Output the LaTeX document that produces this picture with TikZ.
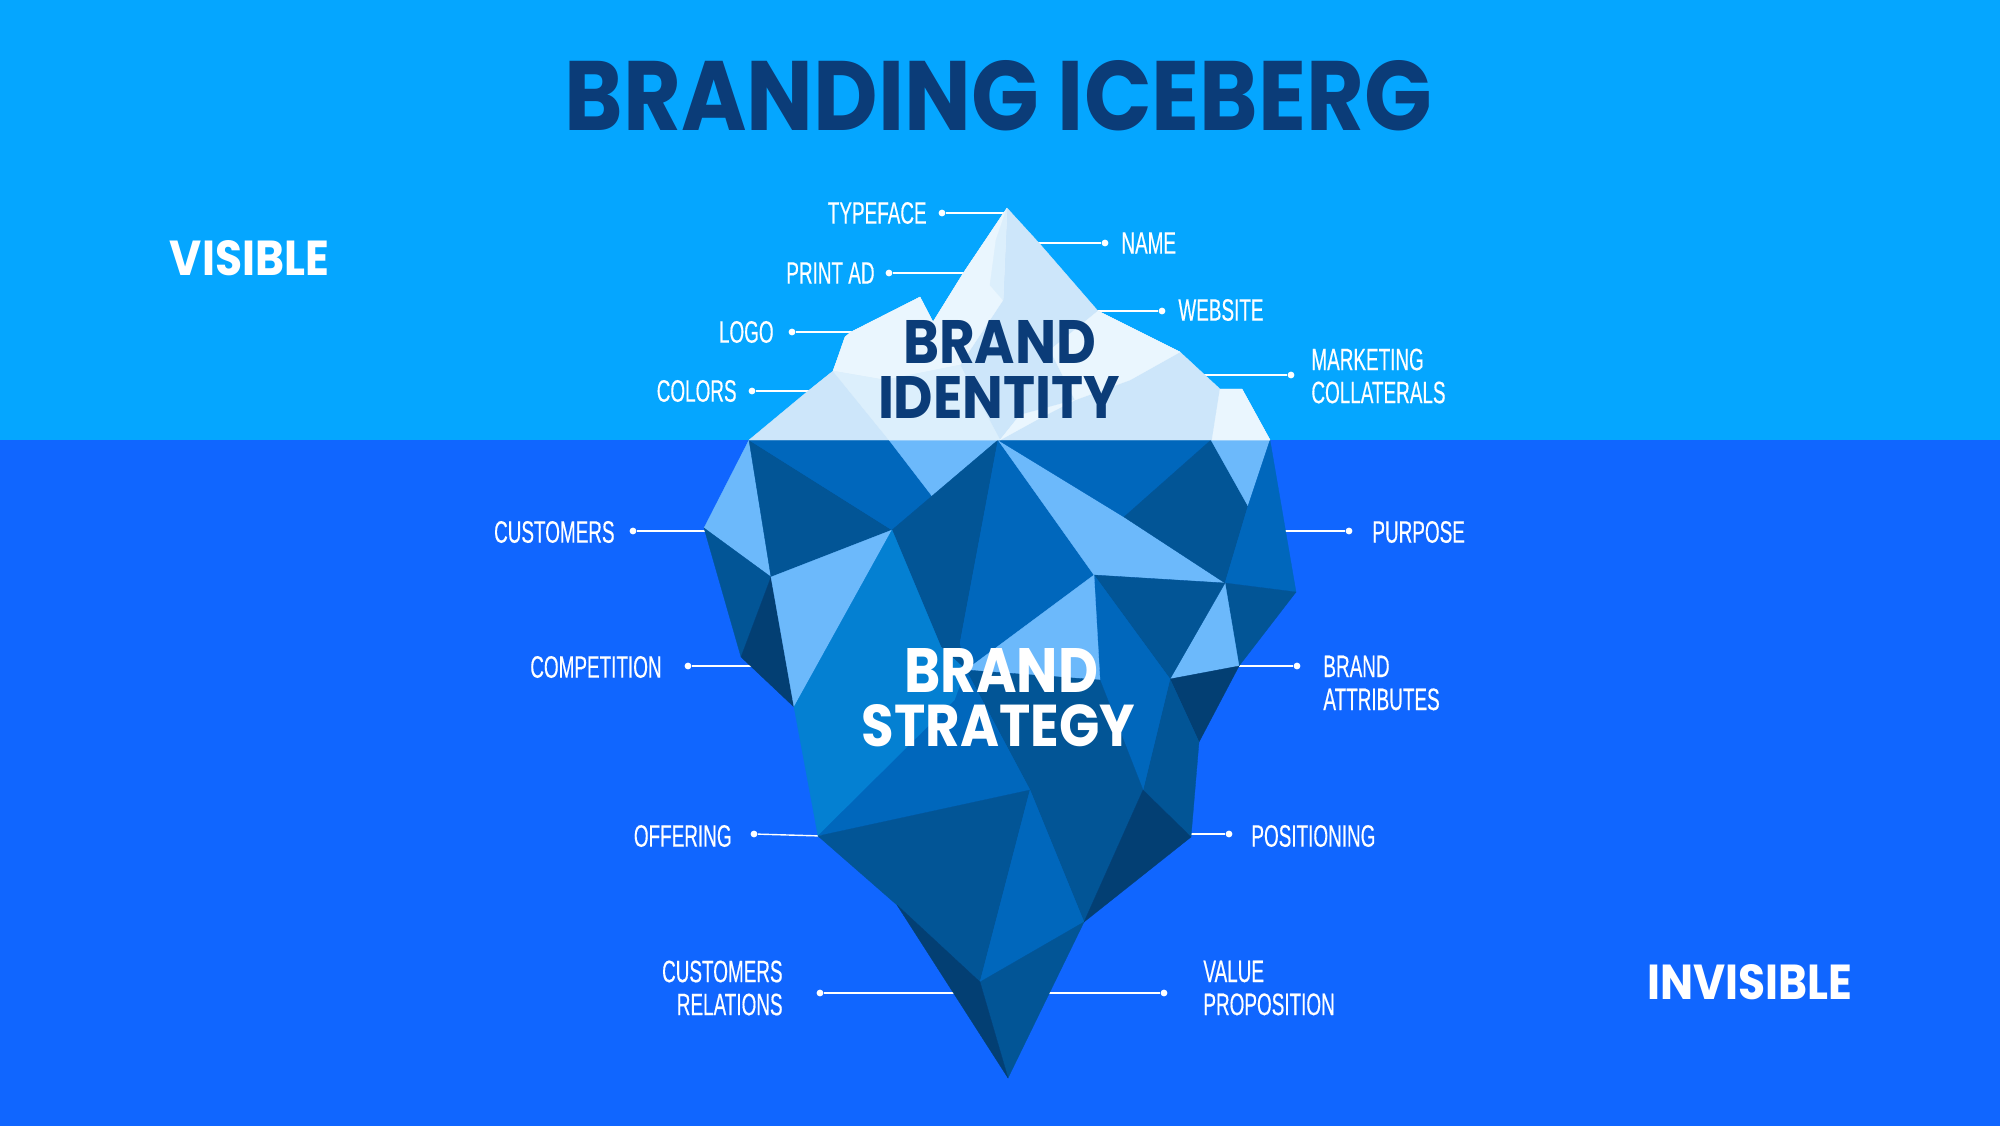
\documentclass[tikz,border=0pt]{standalone}
\usepackage{fontspec}
\setmainfont{Liberation Sans}
\newfontfamily\labfont[FakeStretch=0.61,FakeBold=0.35]{Liberation Sans}
\newfontfamily\headfont{Poppins}
\definecolor{sky}{HTML}{05A6FF}
\definecolor{sea}{HTML}{1066FF}
\definecolor{navy}{HTML}{0B3C78}
\definecolor{icelt}{HTML}{EAF6FE}
\definecolor{icemd}{HTML}{CDE6FA}
\definecolor{icehi}{HTML}{DCEFFC}
\definecolor{fl}{HTML}{6CB9FB}
\definecolor{fb}{HTML}{0480D2}
\definecolor{fm}{HTML}{0067BC}
\definecolor{fd}{HTML}{025596}
\definecolor{fv}{HTML}{033F73}
\tikzset{
  x=0.5pt,y=-0.5pt,
  lab/.style={text=white,inner sep=0pt,align=left,font=\labfont\fontsize{15.5}{16.5}\selectfont},
  labr/.style={lab,anchor=east,align=right},
  labl/.style={lab,anchor=west,align=left},
  dotn/.style={circle,fill=white,inner sep=0pt,minimum size=3.4pt},
  conn/.style={draw=white,line width=0.7pt},
  head/.style={inner sep=0pt,font=\headfont\bfseries},
}
\newcommand{\fct}[2]{\path[fill=#1,draw=#1,line width=0.15pt,line join=round] #2 -- cycle;}
\newcommand{\lnk}[3]{\node[dotn] (#1d) at (#2) {}; \coordinate (#1e) at (#3); \draw[conn] (#1d) -- (#1e);}
\begin{document}
\begin{tikzpicture}
\useasboundingbox (0,0) rectangle (2000,1125);
\fill[sky] (-10,-10) rectangle (2010,440);
\fill[sea] (-10,440) rectangle (2010,1135);

% connectors
\lnk{a}{942,213}{1004,213}
\lnk{b}{1105,243}{1036,243}
\lnk{c}{889,273}{966,273}
\lnk{e}{1162,311}{1095,311}
\lnk{f}{792,332}{855,332}
\lnk{g}{752,391}{812,391}
\lnk{h}{1291,375}{1203,375}
\lnk{i}{633,531}{708,531}
\lnk{j}{1349,531}{1284,531}
\lnk{k}{688,666}{755,666}
\lnk{l}{1297,666}{1235,666}
\lnk{m}{754,834}{822,836}
\lnk{n}{1229,834}{1187,834}
\lnk{o}{820,993}{958,993}
\lnk{p}{1164,993}{1048,993}

% vertices of the berg
\coordinate (W0) at (749,440);
\coordinate (A) at (704,528);
\coordinate (B) at (771,577);
\coordinate (C) at (892,530);
\coordinate (D) at (932,496);
\coordinate (E) at (889,440);
\coordinate (F) at (998,440);
\coordinate (G) at (1094,575);
\coordinate (H) at (1225,583);
\coordinate (I) at (1124,517);
\coordinate (J) at (1211,440);
\coordinate (K) at (1248,506);
\coordinate (L) at (1270,440);
\coordinate (M) at (1296,592);
\coordinate (N) at (1239,666);
\coordinate (O) at (1170,679);
\coordinate (P) at (1199,742);
\coordinate (S) at (741,657);
\coordinate (R) at (794,707);
\coordinate (T) at (960,643);
\coordinate (T2) at (941,647);
\coordinate (T3) at (966,670);
\coordinate (T4) at (1100,680);
\coordinate (T5) at (955,700);
\coordinate (V) at (818,836);
\coordinate (U) at (1030,790);
\coordinate (X) at (980,982);
\coordinate (Y) at (897,905);
\coordinate (Z) at (1143,790);
\coordinate (Q) at (1191,837);
\coordinate (W) at (1084,922);
\coordinate (Tip) at (1008,1078);

% under water
\fct{fl}{(W0) -- (A) -- (B)}
\fct{fd}{(W0) -- (C) -- (B)}
\fct{fm}{(W0) -- (E) -- (D) -- (C)}
\fct{fl}{(E) -- (F) -- (D)}
\fct{fd}{(C) -- (D) -- (F) -- (T) -- (T3) -- (T2)}
\fct{fm}{(F) -- (G) -- (T3) -- (T)}
\fct{fl}{(F) -- (I) -- (H) -- (G)}
\fct{fm}{(F) -- (J) -- (I)}
\fct{fd}{(J) -- (K) -- (H) -- (I)}
\fct{fl}{(J) -- (L) -- (K)}
\fct{fm}{(L) -- (M) -- (H) -- (K)}
\fct{fd}{(H) -- (M) -- (N)}
\fct{fl}{(H) -- (N) -- (O)}
\fct{fd}{(G) -- (H) -- (O)}
\fct{fv}{(O) -- (N) -- (P)}
\fct{fd}{(O) -- (P) -- (Q) -- (Z)}
\fct{fm}{(G) -- (O) -- (Z) -- (T4)}
\fct{fl}{(G) -- (T4) -- (T3)}
\fct{fd}{(T3) -- (T4) -- (Z) -- (W) -- (U)}
\fct{fv}{(Z) -- (Q) -- (W)}
\fct{fd}{(A) -- (B) -- (S)}
\fct{fv}{(B) -- (R) -- (S)}
\fct{fl}{(B) -- (C) -- (R)}
\fct{fb}{(C) -- (T2) -- (T3) -- (T5) -- (V) -- (R)}
\fct{fm}{(V) -- (T5) -- (T3) -- (U)}
\fct{fd}{(V) -- (U) -- (X) -- (Y)}
\fct{fm}{(U) -- (W) -- (X)}
\fct{fd}{(X) -- (W) -- (Tip)}
\fct{fv}{(Y) -- (X) -- (Tip)}

% above water
\fct{icemd}{(749,440) -- (808,391) -- (833,371) -- (837,360) -- (845,337) -- (851,332) -- (920,297) -- (933,322) -- (964,272) -- (1007,208) -- (1039,243) -- (1098,311) -- (1180,352) -- (1220,389) -- (1242,389) -- (1270,440)}
\fct{icelt}{(1007,208) -- (964,272) -- (933,322) -- (960,365) -- (1003,300)}
\fct{icehi}{(1007,208) -- (1003,300) -- (990,285) -- (996,240)}
\fct{icelt}{(833,371) -- (837,360) -- (845,337) -- (851,332) -- (920,297) -- (933,322) -- (960,365) -- (885,380)}
\fct{icehi}{(833,371) -- (885,380) -- (960,365) -- (1000,440) -- (889,440)}
\fct{icelt}{(1098,311) -- (1180,352) -- (1130,380) -- (1075,400) -- (1050,350)}
\fct{icelt}{(1000,440) -- (1020,415) -- (1075,400) -- (1040,418)}
\fct{icelt}{(1220,389) -- (1242,389) -- (1270,440) -- (1212,440)}

% heads
\node[head,text=navy] (title) at (998.5,96) {\resizebox{433.5pt}{35pt}{BRANDING ICEBERG}};
\node[head,text=navy,align=center] (ident1) at (999.5,341.5) {\resizebox{96.5pt}{21.5pt}{BRAND}};
\node[head,text=navy,align=center] (ident2) at (999,397) {\resizebox{121pt}{21pt}{IDENTITY}};
\node[head,text=white,align=center] (strat1) at (1001,670) {\resizebox{97pt}{22pt}{BRAND}};
\node[head,text=white,align=center] (strat2) at (998.5,726) {\resizebox{136.5pt}{21pt}{STRATEGY}};
\node[head,text=white] (vis) at (249.5,258) {\resizebox{79.5pt}{17.5pt}{VISIBLE}};
\node[head,text=white] (invis) at (1749.5,982) {\resizebox{102.5pt}{17.5pt}{INVISIBLE}};

% labels
\node[labr] (t1) at (927,213) {TYPEFACE};
\node[labl] (t2) at (1121,243) {NAME};
\node[labr] (t3) at (875,273) {PRINT AD};
\node[labl] (t4) at (1178,310) {WEBSITE};
\node[labr] (t5) at (774,332) {LOGO};
\node[labr] (t6) at (737,391) {COLORS};
\node[labl] (t7) at (1311,376) {MARKETING\\COLLATERALS};
\node[labr] (t8) at (615,532) {CUSTOMERS};
\node[labl] (t9) at (1372,532) {PURPOSE};
\node[labr] (t10) at (662,667) {COMPETITION};
\node[labl] (t11) at (1323,683) {BRAND\\ATTRIBUTES};
\node[labr] (t12) at (732,836) {OFFERING};
\node[labl] (t13) at (1251,836) {POSITIONING};
\node[labr] (t14) at (783,988) {CUSTOMERS\\RELATIONS};
\node[labl] (t15) at (1203,988) {VALUE\\PROPOSITION};
\end{tikzpicture}
\end{document}
